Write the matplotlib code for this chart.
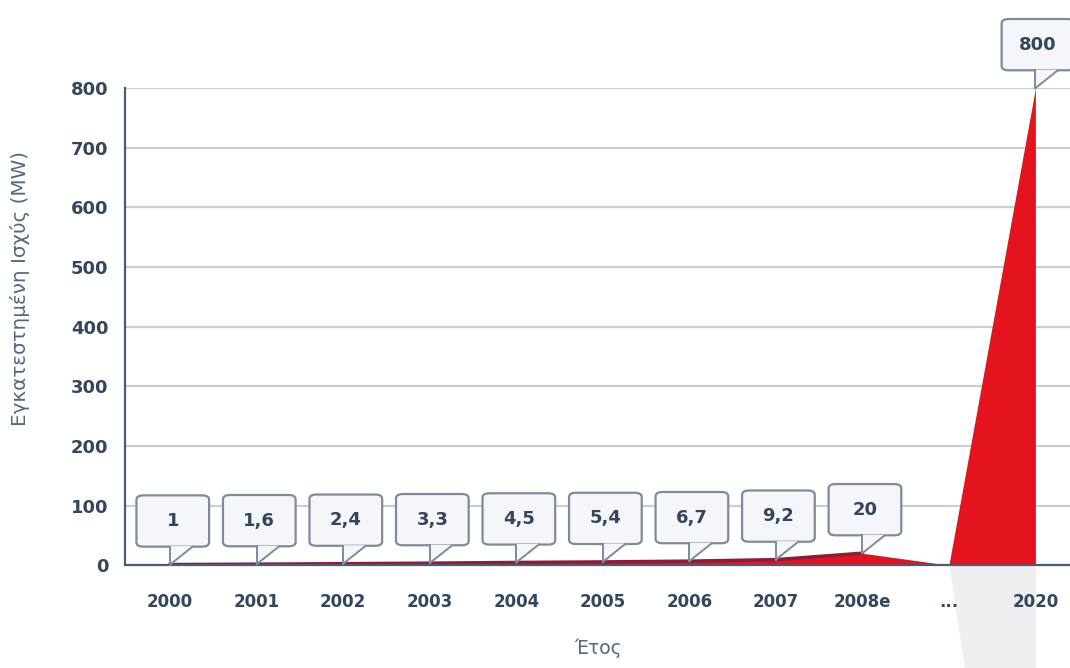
import numpy as np
import matplotlib.pyplot as plt
from matplotlib.patches import FancyBboxPatch, Polygon

# data
years = ["2000", "2001", "2002", "2003", "2004", "2005", "2006", "2007", "2008e", "...", "2020"]
power_mw = [1, 1.6, 2.4, 3.3, 4.5, 5.4, 6.7, 9.2, 20, 0, 800]
labelled = [True, True, True, True, True, True, True, True, True, False, True]
yticks = [0, 100, 200, 300, 400, 500, 600, 700, 800]

navy = "#34465e"
grid_c = "#c9ced4"
red = "#e3141d"

fig = plt.figure(figsize=(10.7, 6.68), dpi=100)
ax = fig.add_axes([0.117, 0.154, 0.883, 0.714])

x = np.arange(len(years))
y = np.array(power_mw, dtype=float)

# faint grey reflection of the 2020 spike below the axis
ax.fill_between(x[-2:], 0, -y[-2:] * 1.2, color="#e9ebee", alpha=0.8, lw=0,
                clip_on=False, zorder=1)

ax.fill_between(x, 0, y, color=red, lw=0, zorder=3)
ax.plot(x[:9], y[:9], color="#9a1733", lw=2.5, zorder=4)

for yt in yticks[1:]:
    ax.axhline(yt, color=grid_c, lw=1.6, zorder=0)

ax.set_xlim(-0.52, 10.4)
ax.set_ylim(0, 800)
ax.set_xticks(x)
ax.set_xticklabels(years)
ax.set_yticks(yticks)
for s in ["top", "right"]:
    ax.spines[s].set_visible(False)
for s in ["left", "bottom"]:
    ax.spines[s].set_color("#4b5b72")
    ax.spines[s].set_linewidth(1.6)
    ax.spines[s].set_zorder(5)
ax.tick_params(axis="x", length=0, pad=20, labelsize=12, labelcolor=navy)
ax.tick_params(axis="y", length=0, pad=12, labelsize=13, labelcolor=navy)
for t in ax.get_xticklabels() + ax.get_yticklabels():
    t.set_fontweight("bold")

ax.set_ylabel("Εγκατεστημένη Ισχύς (MW)", fontsize=14.3, color="#55677d")
ax.yaxis.set_label_coords(-0.101, 0.58)
ax.set_xlabel("Έτος", fontsize=13.5, color="#55677d", labelpad=20)

# speech-bubble value labels
bw, bh = 0.84, 86
for i, (v, show) in enumerate(zip(power_mw, labelled)):
    if not show:
        continue
    bottom = v + 30
    box = FancyBboxPatch((i - 0.39, bottom), bw, bh,
                         boxstyle="round,pad=0,rounding_size=0.08",
                         mutation_aspect=90,
                         fc="#f4f6f9", ec="#7f8b9a", lw=1.6, zorder=6, clip_on=False)
    ax.add_patch(box)
    tri = Polygon([(i, bottom + 1), (i + 0.26, bottom + 1), (i, v)], closed=True,
                  fc="#f4f6f9", ec="none", zorder=7, clip_on=False)
    ax.add_patch(tri)
    ax.plot([i, i], [bottom, v], color="#7f8b9a", lw=1.4, zorder=7, clip_on=False)
    ax.plot([i + 0.26, i], [bottom, v], color="#7f8b9a", lw=1.4, zorder=7, clip_on=False)
    txt = f"{v:g}".replace(".", ",")
    ax.text(i + 0.03, bottom + bh / 2, txt, ha="center", va="center", fontsize=13,
            fontweight="bold", color=navy, zorder=8, clip_on=False)

fig.savefig("out.png", dpi=100)
